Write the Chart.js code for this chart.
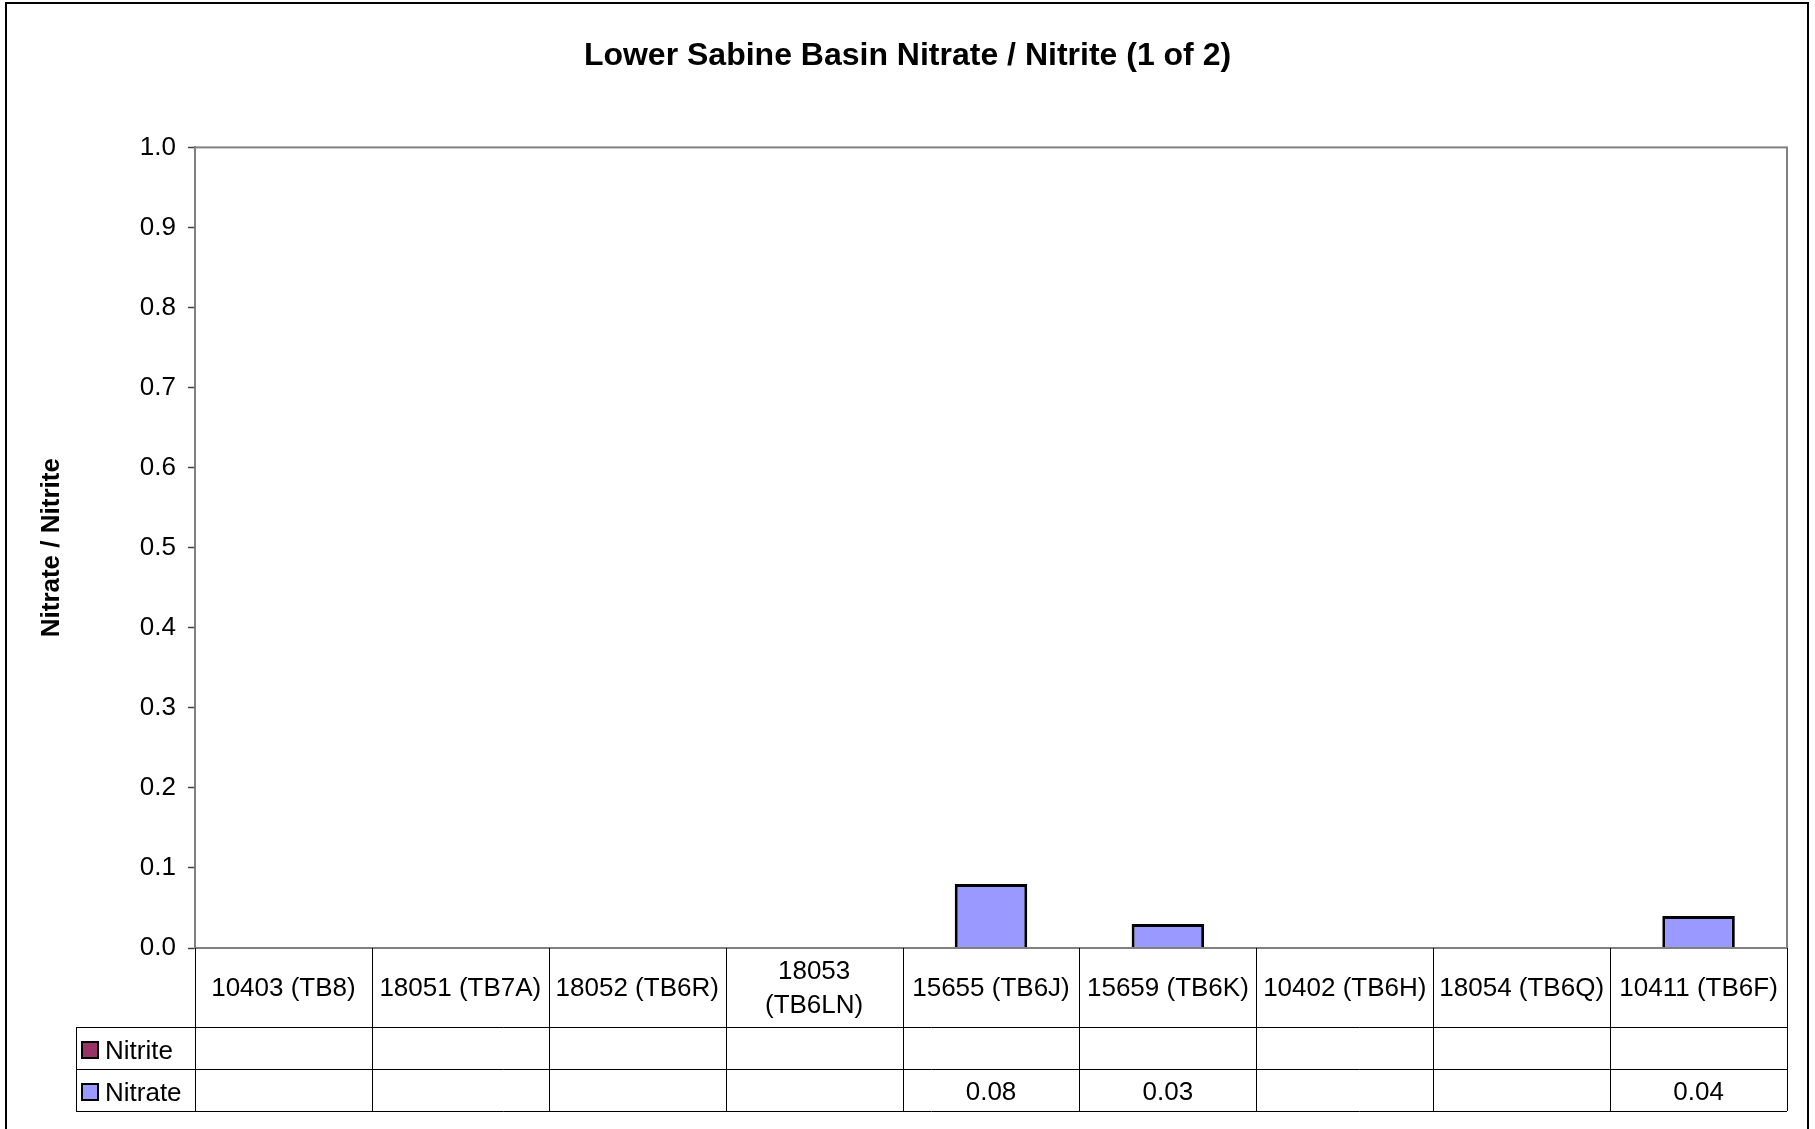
<!DOCTYPE html>
<html>
<head>
<meta charset="utf-8">
<script src="https://cdn.jsdelivr.net/npm/chart.js@4.4.1/dist/chart.umd.min.js"></script>
<style>
    html, body { margin: 0; padding: 0; background: #fff; }
</style>
</head>
<body>
<canvas id="nitrateChart" width="1815" height="1129"></canvas>
<script>
// Stations along the x axis (one label wraps onto two lines)
const stations = [
    '10403 (TB8)', '18051 (TB7A)', '18052 (TB6R)', ['18053', '(TB6LN)'],
    '15655 (TB6J)', '15659 (TB6K)', '10402 (TB6H)', '18054 (TB6Q)', '10411 (TB6F)'
];

// Series values (null = no sample)
const nitriteValues = [null, null, null, null, null, null, null, null, null];
const nitrateValues = [null, null, null, null, 0.08, 0.03, null, null, 0.04];

const nitriteColor = '#993366';
const nitrateColor = '#9999FF';
const fontFamily = '"Liberation Sans", Arial, sans-serif';

// Draws the white background, the outer frame and the plot area frame
const framePlugin = {
    id: 'frame',
    beforeDraw(chart) {
        const ctx = chart.ctx;
        ctx.save();
        ctx.fillStyle = '#fff';
        ctx.fillRect(0, 0, chart.width, chart.height);
        ctx.strokeStyle = '#000';
        ctx.lineWidth = 2;
        // frame runs past the bottom edge like the original
        ctx.strokeRect(6, 3, 1802, 1140);
        ctx.restore();
    },
    afterDatasetsDraw(chart) {
        const ctx = chart.ctx;
        const a = chart.chartArea;
        ctx.save();
        ctx.strokeStyle = '#808080';
        ctx.lineWidth = 2;
        ctx.strokeRect(a.left, a.top, a.right - a.left, a.bottom - a.top);
        ctx.restore();
    }
};

// Excel-style data table under the plot
const dataTablePlugin = {
    id: 'dataTable',
    afterDraw(chart) {
        const ctx = chart.ctx;
        const a = chart.chartArea;
        const xScale = chart.scales.x;
        const colW = (a.right - a.left) / stations.length;
        const catBottom = a.bottom + 79;
        const nitriteBottom = catBottom + 42;
        const nitrateBottom = nitriteBottom + 42;
        const legendLeft = 76;

        ctx.save();
        ctx.strokeStyle = '#000';
        ctx.lineWidth = 1;
        ctx.beginPath();
        for (let i = 0; i <= stations.length; i++) {
            const x = Math.round(a.left + i * colW) + 0.5;
            ctx.moveTo(x, a.bottom);
            ctx.lineTo(x, nitrateBottom);
        }
        [catBottom, nitriteBottom, nitrateBottom].forEach(y => {
            ctx.moveTo(legendLeft, Math.round(y) + 0.5);
            ctx.lineTo(a.right, Math.round(y) + 0.5);
        });
        ctx.moveTo(legendLeft + 0.5, catBottom);
        ctx.lineTo(legendLeft + 0.5, nitrateBottom);
        ctx.stroke();

        ctx.fillStyle = '#000';
        ctx.font = '26px ' + fontFamily;
        ctx.textAlign = 'center';
        ctx.textBaseline = 'middle';

        stations.forEach((label, i) => {
            const cx = xScale.getPixelForValue(i);
            const lines = Array.isArray(label) ? label : [label];
            const lh = 34;
            const cy = (a.bottom + catBottom) / 2 + 1;
            lines.forEach((t, k) => {
                ctx.fillText(t, cx, cy + (k - (lines.length - 1) / 2) * lh);
            });
        });

        const rows = [
            { name: 'Nitrite', color: nitriteColor, values: nitriteValues, top: catBottom, bottom: nitriteBottom },
            { name: 'Nitrate', color: nitrateColor, values: nitrateValues, top: nitriteBottom, bottom: nitrateBottom }
        ];
        rows.forEach(r => {
            const cy = (r.top + r.bottom) / 2;
            ctx.fillStyle = r.color;
            ctx.fillRect(82, cy - 6, 16, 16);
            ctx.strokeStyle = '#000';
            ctx.lineWidth = 2;
            ctx.strokeRect(82, cy - 6, 16, 16);
            ctx.fillStyle = '#000';
            ctx.textAlign = 'left';
            ctx.fillText(r.name, 105, cy + 4);
            ctx.textAlign = 'center';
            r.values.forEach((v, i) => {
                if (v === null) return;
                ctx.fillText(v.toFixed(2), xScale.getPixelForValue(i), cy + 3);
            });
        });
        ctx.restore();
    }
};

const nitrateChart = new Chart(document.getElementById('nitrateChart'), {
    type: 'bar',
    data: {
        labels: stations,
        datasets: [{
            label: 'Nitrite',
            data: nitriteValues,
            backgroundColor: nitriteColor,
            borderColor: '#000',
            borderWidth: 3
        }, {
            label: 'Nitrate',
            data: nitrateValues,
            backgroundColor: nitrateColor,
            borderColor: '#000',
            borderWidth: 3
        }]
    },
    options: {
        responsive: false,
        animation: false,
        devicePixelRatio: 1,
        layout: {
            padding: { left: 28, right: 28, top: 0, bottom: 181 }
        },
        datasets: {
            bar: { categoryPercentage: 1, barPercentage: 0.41 }
        },
        plugins: {
            legend: { display: false },
            tooltip: { enabled: false },
            title: {
                display: true,
                text: 'Lower Sabine Basin Nitrate / Nitrite (1 of 2)',
                color: '#000',
                font: { family: fontFamily, size: 32, weight: 'bold' },
                padding: { top: 37, bottom: 72 }
            }
        },
        scales: {
            x: {
                display: false,
                stacked: true
            },
            y: {
                stacked: true,
                min: 0,
                max: 1,
                afterFit(scale) { scale.width = 167; },
                ticks: {
                    stepSize: 0.1,
                    color: '#000',
                    padding: 12,
                    font: { family: fontFamily, size: 26 },
                    callback: v => v.toFixed(1)
                },
                grid: {
                    drawOnChartArea: false,
                    drawTicks: true,
                    tickLength: 7,
                    tickColor: '#404040',
                    tickWidth: 1.5
                },
                border: { display: true, color: '#808080', width: 2 },
                title: {
                    display: true,
                    text: 'Nitrate / Nitrite',
                    color: '#000',
                    font: { family: fontFamily, size: 26, weight: 'bold' },
                    padding: { top: 8, bottom: 0 }
                }
            }
        }
    },
    plugins: [framePlugin, dataTablePlugin]
});
</script>
</body>
</html>
